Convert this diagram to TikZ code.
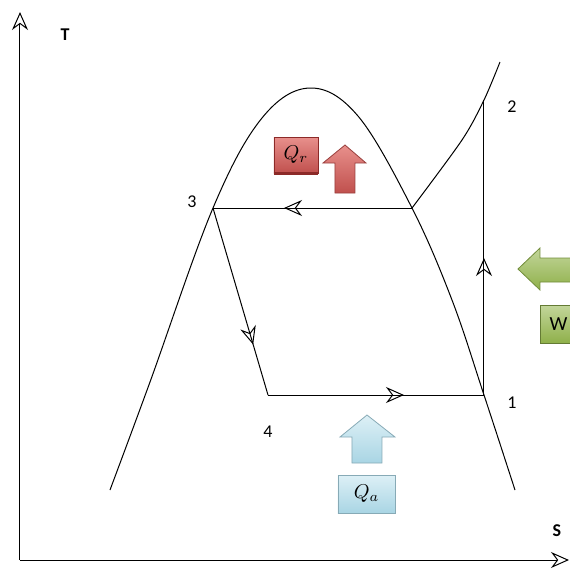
\documentclass[tikz,border=0pt]{standalone}
\usepackage{fontspec}
\setsansfont{Carlito}
\usetikzlibrary{arrows.meta,calc}
\definecolor{redA}{HTML}{E8908C}
\definecolor{redB}{HTML}{C0504D}
\definecolor{redC}{HTML}{8C2A28}
\definecolor{grnA}{HTML}{C3D69B}
\definecolor{grnB}{HTML}{8FB04A}
\definecolor{bluA}{HTML}{DDF0F6}
\definecolor{bluB}{HTML}{A9D5E4}
\tikzset{
  line/.style={black, line width=0.5pt},
  opentip/.style={-{Stealth[open,length=9pt,width=8pt,inset=3pt]}},
  lbl/.style={font=\sffamily\small},
  midarrow/.style={line, opentip},
}
\begin{document}
\begin{tikzpicture}[x=0.5pt,y=-0.5pt]
\useasboundingbox (0,0) rectangle (570,570);
% axes
\coordinate (O) at (20,560);
\coordinate (Ty) at (20,12);
\coordinate (Sx) at (569,560);
\draw[line, opentip] (O) -- (Ty);
\draw[line, opentip] (O) -- (Sx);
\node[font=\sffamily\bfseries\small] (Tl) at (65,35) {T};
\node[font=\sffamily\bfseries\small] (Sl) at (557,531) {S};
% points
\coordinate (p3) at (213,208);
\coordinate (pR) at (412,208);
\coordinate (p4) at (268,395);
\coordinate (p1) at (484,395);
\coordinate (p2) at (484,100);
% dome
\draw[line] plot[smooth, tension=0.6] coordinates {(110,490) (150,382) (213,208) (262,118) (310,88) (358,116) (412,208) (452,300) (484,395) (515,490)};
% superheated line
\draw[line] plot[smooth, tension=0.5] coordinates {(pR) (462,140) (p2) (500,62)};
% cycle lines
\draw[line] (p1) -- (p2);
\draw[line] (pR) -- (p3);
\draw[line] (p3) -- (p4);
\draw[line] (p4) -- (p1);
% mid arrows
\draw[midarrow] (484,290) -- (484,258);
\draw[midarrow] (320,208) -- (284,208);
\draw[midarrow] ($(p3)!0.66!(p4)$) -- ($(p3)!0.73!(p4)$);
\draw[midarrow] (370,395) -- (404,395);
% labels
\node[lbl] (l3) at (192,202) {3};
\node[lbl] (l2) at (512,107) {2};
\node[lbl] (l1) at (512,403) {1};
\node[lbl] (l4) at (268,432) {4};
% Qr box
\node[draw=redC, line width=0.4pt, top color=redA, bottom color=redB, minimum width=22pt, minimum height=18pt, inner sep=0pt] (Qr) at (296,155) {$Q_r$};
\draw[redC, line width=1.2pt] (Qr.south west) -- (Qr.south east);
% red up arrow
\path[draw=redB!80!black, line width=0.4pt, top color=redA, bottom color=redB] (345,145) -- (366,163) -- (355,163) -- (355,193) -- (335,193) -- (335,163) -- (323,163) -- cycle;
% green left arrow
\path[draw=grnB!80!black, line width=0.4pt, top color=grnA, bottom color=grnB] (518,269) -- (540,248) -- (540,258) -- (572,258) -- (572,282) -- (540,282) -- (540,290) -- cycle;
% W box
\node[draw=grnB!70!black, line width=0.4pt, top color=grnA, bottom color=grnB, minimum width=30pt, minimum height=19pt, inner sep=0pt, anchor=west, font=\sffamily] (W) at (540,324) {\hspace*{-12pt}W};
% blue up arrow
\path[draw=bluB!80!black, line width=0.4pt, top color=bluA, bottom color=bluB] (367,415) -- (395,437) -- (382,437) -- (382,463) -- (352,463) -- (352,437) -- (340,437) -- cycle;
% Qa box
\node[draw=bluB!80!black, line width=0.4pt, top color=bluA, bottom color=bluB, minimum width=28.5pt, minimum height=19pt, inner sep=0pt] (Qa) at (366.5,494) {$Q_a$};
\end{tikzpicture}
\end{document}
